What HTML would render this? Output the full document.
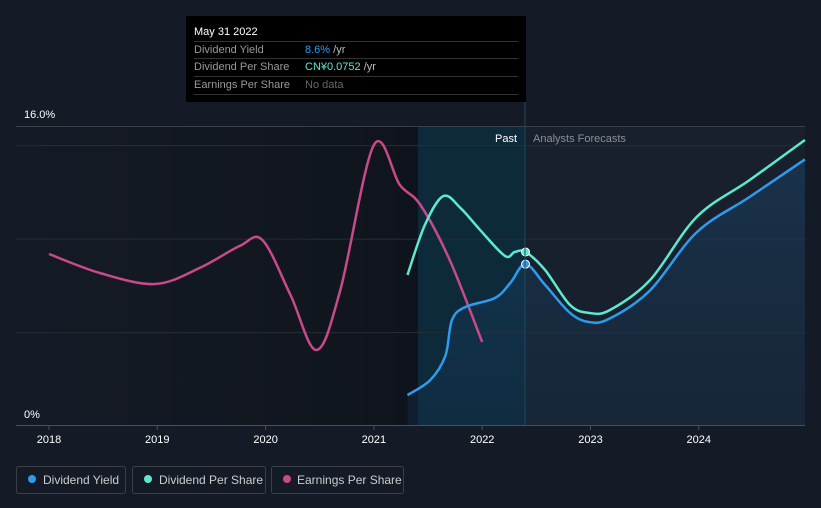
<!DOCTYPE html>
<html><head><meta charset="utf-8"><style>
body{margin:0;background:#151b26;font-family:"Liberation Sans",sans-serif;}
svg{display:block}
</style></head><body>
<svg id="c" width="821" height="508">
<defs>
<linearGradient id="lg" x1="0" x2="1"><stop offset="0" stop-color="#151b26"/><stop offset="1" stop-color="#0f141c"/></linearGradient>
<linearGradient id="ag" x1="0" y1="0" x2="0" y2="1"><stop offset="0" stop-color="#1b4a6e" stop-opacity="0.8"/><stop offset="1" stop-color="#163050" stop-opacity="0.6"/></linearGradient>
</defs>
<rect x="0" y="0" width="821" height="508" fill="#151b26"/>
<rect x="16" y="126" width="402" height="299" fill="url(#lg)"/>
<rect x="418" y="126" width="107" height="299" fill="#0d2a3a"/>
<rect x="525" y="126" width="280" height="299" fill="#18202d"/>
<g id="grid"></g>
<g id="series"></g>
<line x1="525" y1="100" x2="525" y2="425" stroke="#1e4a5a" stroke-width="1"/>
<text x="517" y="142" fill="#fff" font-size="11" text-anchor="end">Past</text>
<text x="533" y="142" fill="#8a8f98" font-size="11">Analysts Forecasts</text>
<text x="24" y="118" fill="#fff" font-size="11">16.0%</text>
<text x="24" y="418" fill="#fff" font-size="11">0%</text>
<line x1="16" y1="425.5" x2="805" y2="425.5" stroke="#4a4f58"/>
<g id="xt"></g>
<g>
<rect x="186" y="16" width="340" height="86" fill="#000"/>
<text x="194" y="35" fill="#fff" font-size="11">May 31 2022</text>
<line x1="194" y1="41.5" x2="518" y2="41.5" stroke="#333"/>
<text x="194" y="53" fill="#999" font-size="11">Dividend Yield</text>
<text x="305" y="53" fill="#2d9cee" font-size="11">8.6%<tspan fill="#bbb"> /yr</tspan></text>
<line x1="194" y1="58.5" x2="518" y2="58.5" stroke="#333"/>
<text x="194" y="70" fill="#999" font-size="11">Dividend Per Share</text>
<text x="305" y="70" fill="#5ee8cf" font-size="11">CN¥0.0752<tspan fill="#bbb"> /yr</tspan></text>
<line x1="194" y1="76.5" x2="518" y2="76.5" stroke="#333"/>
<text x="194" y="88" fill="#999" font-size="11">Earnings Per Share</text>
<text x="305" y="88" fill="#666" font-size="11">No data</text>
<line x1="194" y1="94.5" x2="518" y2="94.5" stroke="#333"/>
</g>
<g>
<g><rect x="16.5" y="466.5" width="109" height="27" rx="2" fill="none" stroke="#3a3f48"/><circle cx="32" cy="479" r="4" fill="#2d9cee"/><text x="43" y="484" fill="#ccc" font-size="12">Dividend Yield</text></g>
<g><rect x="132.5" y="466.5" width="133" height="27" rx="2" fill="none" stroke="#3a3f48"/><circle cx="148" cy="479" r="4" fill="#5ee8cf"/><text x="159" y="484" fill="#ccc" font-size="12">Dividend Per Share</text></g>
<g><rect x="271.5" y="466.5" width="132" height="27" rx="2" fill="none" stroke="#3a3f48"/><circle cx="287" cy="479" r="4" fill="#c84a8a"/><text x="297" y="484" fill="#ccc" font-size="12">Earnings Per Share</text></g>
</g>
</svg>
<script>
const years=[2018,2019,2020,2021,2022,2023,2024];
const yieldX=[2021.31,2021.52,2021.66,2021.72,2021.84,2022.12,2022.26,2022.4,2022.58,2022.81,2022.99,2023.18,2023.55,2023.98,2024.47,2024.98];
const yieldV=[1.6,2.4,3.7,5.6,6.3,6.8,7.6,8.6,7.5,6.0,5.5,5.7,7.2,10.3,12.2,14.2];
const dpsX=[2021.31,2021.47,2021.64,2021.8,2021.98,2022.21,2022.3,2022.4,2022.58,2022.81,2022.99,2023.18,2023.55,2023.98,2024.47,2024.98];
const dpsV=[0.0652,0.0869,0.0995,0.0943,0.0848,0.0735,0.0752,0.0752,0.0674,0.0522,0.0487,0.05,0.063,0.0904,0.1065,0.1239];
const epsX=[2018,2018.47,2018.98,2019.39,2019.76,2019.97,2020.23,2020.47,2020.69,2021,2021.24,2021.43,2021.7,2022];
const epsV=[0.171,0.152,0.141,0.157,0.179,0.185,0.13,0.075,0.135,0.28,0.24,0.22,0.165,0.083];
const gridV=[4.94,9.94,14.94];
const NS='http://www.w3.org/2000/svg';
const xs=t=>49+(t-2018)*108.3;
const yY=v=>425-v*18.7;
const yD=v=>425-v*(173/0.0752);
const yE=v=>425-v*1000;
function mk(tag,attrs,parent){const e=document.createElementNS(NS,tag);for(const k in attrs)e.setAttribute(k,attrs[k]);parent.appendChild(e);return e;}
function smooth(p){let d='M'+p[0][0]+','+p[0][1];for(let i=0;i<p.length-1;i++){const p0=p[i-1]||p[i],p1=p[i],p2=p[i+1],p3=p[i+2]||p2;
d+=' C'+(p1[0]+(p2[0]-p0[0])/6)+','+(p1[1]+(p2[1]-p0[1])/6)+' '+(p2[0]-(p3[0]-p1[0])/6)+','+(p2[1]-(p3[1]-p1[1])/6)+' '+p2[0]+','+p2[1];}return d;}
const grid=document.getElementById('grid');
mk('line',{x1:16,x2:805,y1:126.5,y2:126.5,stroke:'#3a3f48'},grid);
gridV.forEach(v=>{const l=mk('line',{x1:16,x2:805,y1:yY(v),y2:yY(v),stroke:'#262c36'},grid);

});
const xt=document.getElementById('xt');
years.forEach(y=>{mk('line',{x1:xs(y),x2:xs(y),y1:425,y2:430,stroke:'#4a4f58'},xt);
const t=mk('text',{x:xs(y),y:443,fill:'#fff','font-size':11,'text-anchor':'middle'},xt);t.textContent=y;

});
const s=document.getElementById('series');
const yp=yieldX.map((t,i)=>[xs(t),yY(yieldV[i])]);
const dp=dpsX.map((t,i)=>[xs(t),yD(dpsV[i])]);
const ep=epsX.map((t,i)=>[xs(t),yE(epsV[i])]);
const area=mk('path',{d:smooth(yp)+' L'+yp[yp.length-1][0]+',425 L'+yp[0][0]+',425 Z',fill:'url(#ag)',opacity:0.55},s);


const le=mk('path',{d:smooth(ep),fill:'none',stroke:'#c84a8a','stroke-width':2.5},s);


const ld=mk('path',{d:smooth(dp),fill:'none',stroke:'#5ee8cf','stroke-width':2.5},s);


const ly=mk('path',{d:smooth(yp),fill:'none',stroke:'#2d9cee','stroke-width':2.5},s);


const c1=mk('circle',{cx:yp[7][0],cy:yp[7][1],r:4,fill:'#2d9cee',stroke:'#fff','stroke-width':1},s);


const c2=mk('circle',{cx:dp[7][0],cy:dp[7][1],r:4,fill:'#5ee8cf',stroke:'#fff','stroke-width':1},s);


</script>
</body></html>
